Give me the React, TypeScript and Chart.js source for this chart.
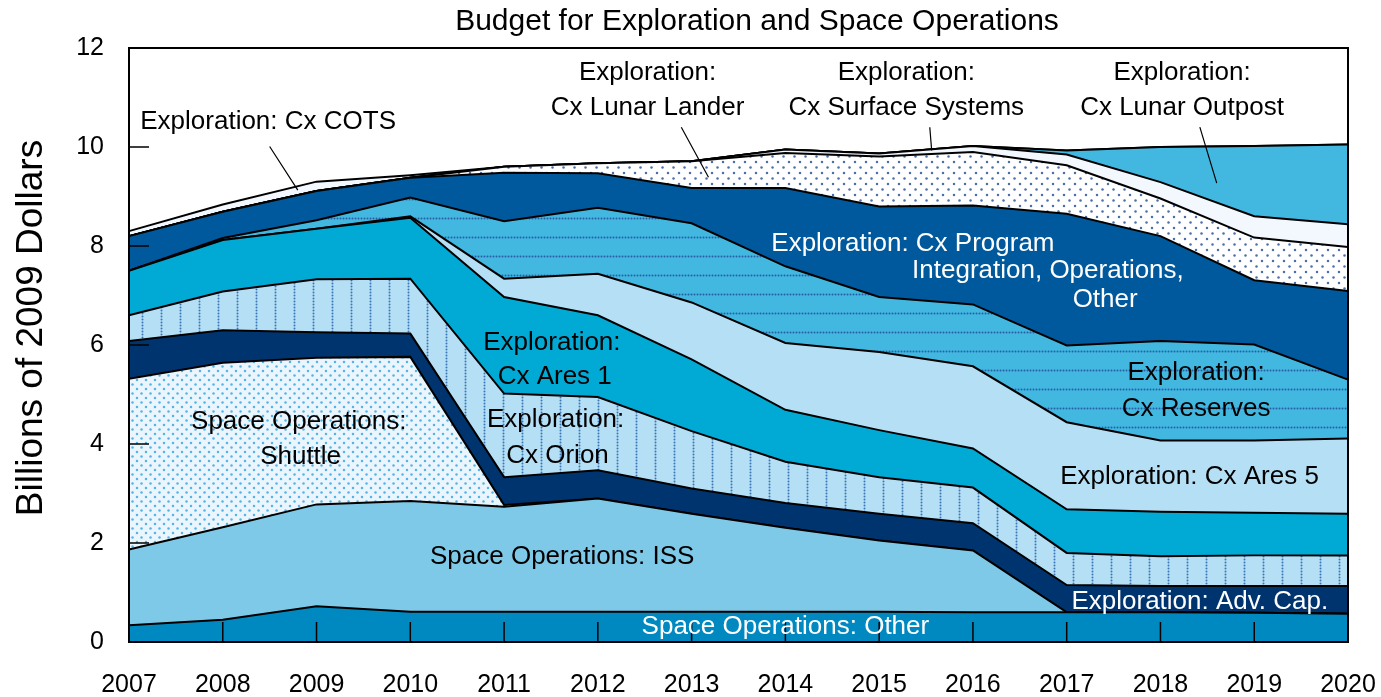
import React, { useEffect, useRef } from 'react';
import { Chart, registerables } from 'chart.js';

Chart.register(...registerables);

// ---------- data (billions of 2009 dollars, per layer) ----------
const YEARS = ['2007', '2008', '2009', '2010', '2011', '2012', '2013', '2014', '2015', '2016', '2017', '2018', '2019', '2020'];
const Y_TICKS = [0, 2, 4, 6, 8, 10, 12];

const SPACE_OPS_OTHER = [0.34, 0.45, 0.72, 0.61, 0.61, 0.61, 0.61, 0.61, 0.61, 0.60, 0.60, 0.60, 0.59, 0.57];
const SPACE_OPS_ISS = [1.53, 1.87, 2.06, 2.24, 2.12, 2.29, 1.98, 1.70, 1.44, 1.25, 0, 0, 0, 0];
const SPACE_OPS_SHUTTLE = [3.45, 3.32, 2.96, 2.91, 0.04, 0, 0, 0, 0, 0, 0, 0, 0, 0];
const EXP_ADV_CAP = [0.76, 0.66, 0.52, 0.47, 0.56, 0.57, 0.51, 0.50, 0.54, 0.55, 0.55, 0.53, 0.54, 0.56];
const EXP_CX_ORION = [0.52, 0.78, 1.07, 1.11, 1.69, 1.48, 1.16, 0.83, 0.74, 0.72, 0.65, 0.60, 0.62, 0.62];
const EXP_CX_ARES1 = [0.90, 1.04, 1.02, 1.23, 1.95, 1.65, 1.45, 1.05, 0.95, 0.79, 0.88, 0.90, 0.86, 0.84];
const EXP_CX_ARES5 = [0, 0, 0, 0.03, 0.37, 0.84, 1.15, 1.35, 1.58, 1.66, 1.76, 1.44, 1.46, 1.52];
const EXP_CX_RESERVES = [0, 0.04, 0.17, 0.38, 1.16, 1.33, 1.60, 1.55, 1.11, 1.25, 1.55, 2.01, 1.94, 1.19];
const EXP_CX_PROGRAM = [0.70, 0.53, 0.59, 0.40, 0.98, 0.70, 0.71, 1.58, 1.83, 2.00, 2.66, 2.12, 1.30, 1.79];
const EXP_CX_LUNAR_LANDER = [0, 0, 0, 0, 0.12, 0.20, 0.54, 0.71, 1.01, 1.08, 0.98, 0.76, 0.86, 0.89];
const EXP_CX_SURFACE = [0, 0, 0, 0, 0, 0, 0, 0.07, 0.06, 0.12, 0.22, 0.33, 0.43, 0.46];
const EXP_CX_OUTPOST = [0, 0, 0, 0, 0, 0, 0, 0, 0, 0, 0.08, 0.71, 1.42, 1.61];
const EXP_CX_COTS = [0.10, 0.15, 0.19, 0.05, 0, 0, 0, 0, 0, 0, 0, 0, 0, 0];

const TITLE = 'Budget for Exploration and Space Operations';
const Y_TITLE = 'Billions of 2009 Dollars';

// ---------- annotations (positions in data units: year, value) ----------
type Ann = { lines: string[]; x: number[]; y: number[]; color: string; align: CanvasTextAlign };
const ANNOTATIONS: Ann[] = [
  { lines: ['Exploration: Cx COTS'], x: [2007.12], y: [10.5], color: '#000', align: 'left' },
  { lines: ['Exploration:', 'Cx Lunar Lander'], x: [2012.53, 2012.53], y: [11.49, 10.8], color: '#000', align: 'center' },
  { lines: ['Exploration:', 'Cx Surface Systems'], x: [2015.29, 2015.29], y: [11.49, 10.8], color: '#000', align: 'center' },
  { lines: ['Exploration:', 'Cx Lunar Outpost'], x: [2018.23, 2018.23], y: [11.49, 10.8], color: '#000', align: 'center' },
  { lines: ['Exploration: Cx Program', 'Integration, Operations,', 'Other'], x: [2015.36, 2016.8, 2017.41], y: [8.05, 7.49, 6.92], color: '#fff', align: 'center' },
  { lines: ['Exploration:', 'Cx Ares 1'], x: [2011.51, 2011.54], y: [6.05, 5.35], color: '#000', align: 'center' },
  { lines: ['Exploration:', 'Cx Orion'], x: [2011.55, 2011.57], y: [4.48, 3.77], color: '#000', align: 'center' },
  { lines: ['Space Operations: ISS'], x: [2011.62], y: [1.73], color: '#000', align: 'center' },
  { lines: ['Space Operations:', 'Shuttle'], x: [2008.81, 2008.83], y: [4.44, 3.75], color: '#000', align: 'center' },
  { lines: ['Space Operations: Other'], x: [2014.0], y: [0.3], color: '#fff', align: 'center' },
  { lines: ['Exploration: Adv. Cap.'], x: [2018.42], y: [0.81], color: '#fff', align: 'center' },
  { lines: ['Exploration:', 'Cx Reserves'], x: [2018.38, 2018.38], y: [5.43, 4.72], color: '#000', align: 'center' },
  { lines: ['Exploration: Cx Ares 5'], x: [2018.31], y: [3.33], color: '#000', align: 'center' },
];
const LEADERS: [number, number, number, number][] = [
  [2008.5, 10.01, 2008.8, 9.13],
  [2012.89, 10.4, 2013.18, 9.39],
  [2015.54, 10.4, 2015.56, 9.93],
  [2018.42, 10.4, 2018.6, 9.27],
];

const FONT = '"Liberation Sans", Arial, Helvetica, sans-serif';

function makePattern(
  ctx: CanvasRenderingContext2D,
  bg: string,
  fg: string,
  w: number,
  h: number,
  dots: [number, number][],
  r: number
): CanvasPattern | string {
  const c = document.createElement('canvas');
  c.width = w;
  c.height = h;
  const g = c.getContext('2d');
  if (!g) return bg;
  g.fillStyle = bg;
  g.fillRect(0, 0, w, h);
  g.fillStyle = fg;
  for (const [x, y] of dots) {
    g.beginPath();
    g.arc(x, y, r, 0, Math.PI * 2);
    g.fill();
  }
  return ctx.createPattern(c, 'repeat') || bg;
}

export default function App() {
  const ref = useRef<HTMLCanvasElement>(null);

  useEffect(() => {
    const canvas = ref.current;
    if (!canvas) return;
    const ctx = canvas.getContext('2d');
    if (!ctx) return;

    const shuttleFill = makePattern(ctx, '#EAF5FD', '#55B4E4', 9, 9, [[2, 2], [6.5, 6.5]], 1.25);
    const orionFill = makePattern(ctx, '#B5DFF4', '#3A76BA', 19, 3, [[9.5, 1.5]], 1.0);
    const reservesFill = makePattern(ctx, '#42B8E0', '#2A5FA6', 3, 19, [[1.5, 9.5]], 1.0);
    const landerFill = makePattern(ctx, '#FFFFFF', '#4C6FAA', 11, 11, [[2.5, 2.5], [8, 8]], 1.25);

    const layers: { label: string; data: number[]; fill: CanvasPattern | string }[] = [
      { label: 'Space Operations: Other', data: SPACE_OPS_OTHER, fill: '#0088C0' },
      { label: 'Space Operations: ISS', data: SPACE_OPS_ISS, fill: '#7EC9E8' },
      { label: 'Space Operations: Shuttle', data: SPACE_OPS_SHUTTLE, fill: shuttleFill },
      { label: 'Exploration: Adv. Cap.', data: EXP_ADV_CAP, fill: '#00346F' },
      { label: 'Exploration: Cx Orion', data: EXP_CX_ORION, fill: orionFill },
      { label: 'Exploration: Cx Ares 1', data: EXP_CX_ARES1, fill: '#00AAD5' },
      { label: 'Exploration: Cx Ares 5', data: EXP_CX_ARES5, fill: '#B5DFF4' },
      { label: 'Exploration: Cx Reserves', data: EXP_CX_RESERVES, fill: reservesFill },
      { label: 'Exploration: Cx Program Integration, Operations, Other', data: EXP_CX_PROGRAM, fill: '#00599C' },
      { label: 'Exploration: Cx Lunar Lander', data: EXP_CX_LUNAR_LANDER, fill: landerFill },
      { label: 'Exploration: Cx Surface Systems', data: EXP_CX_SURFACE, fill: '#F3F8FE' },
      { label: 'Exploration: Cx Lunar Outpost', data: EXP_CX_OUTPOST, fill: '#42B8E0' },
      { label: 'Exploration: Cx COTS', data: EXP_CX_COTS, fill: '#F3F8FE' },
    ];

    const decor = {
      id: 'decor',
      afterDatasetsDraw(chart: any) {
        const c: CanvasRenderingContext2D = chart.ctx;
        const area = chart.chartArea;
        const xs = chart.scales.x;
        const ys = chart.scales.y;
        const px = (yr: number) => xs.getPixelForValue(yr - 2007);
        const py = (v: number) => ys.getPixelForValue(v);

        c.save();
        // frame
        c.strokeStyle = '#000';
        c.lineWidth = 2;
        c.strokeRect(area.left, area.top, area.right - area.left, area.bottom - area.top);

        // tick marks (inward)
        c.lineWidth = 1.5;
        c.beginPath();
        for (const t of Y_TICKS) {
          const y = py(t);
          c.moveTo(area.left, y);
          c.lineTo(area.left + 20, y);
        }
        for (let i = 1; i < YEARS.length - 1; i++) {
          const x = xs.getPixelForValue(i);
          c.moveTo(x, area.bottom);
          c.lineTo(x, area.bottom - 20);
        }
        c.stroke();

        // leader lines
        c.lineWidth = 1.2;
        c.beginPath();
        for (const [x1, y1, x2, y2] of LEADERS) {
          c.moveTo(px(x1), py(y1));
          c.lineTo(px(x2), py(y2));
        }
        c.stroke();

        c.textBaseline = 'middle';
        c.font = `25px ${FONT}`;
        c.fillStyle = '#000';

        // y tick labels
        c.textAlign = 'right';
        for (const t of Y_TICKS) {
          c.fillText(String(t), area.left - 25, py(t));
        }
        // x tick labels
        c.textAlign = 'center';
        YEARS.forEach((lab, i) => {
          c.fillText(lab, xs.getPixelForValue(i), area.bottom + 43);
        });

        // annotations
        c.font = `26px ${FONT}`;
        for (const a of ANNOTATIONS) {
          c.fillStyle = a.color;
          c.textAlign = a.align;
          a.lines.forEach((ln, i) => {
            c.fillText(ln, px(a.x[i]), py(a.y[i]));
          });
        }

        // title
        c.fillStyle = '#000';
        c.font = `30px ${FONT}`;
        c.textAlign = 'center';
        c.fillText(TITLE, 757, 22);

        // y title
        c.font = `37px ${FONT}`;
        c.translate(32, 328);
        c.rotate(-Math.PI / 2);
        c.fillText(Y_TITLE, 0, 0);
        c.restore();
      },
    };

    const chart = new Chart(ctx, {
      type: 'line',
      data: {
        labels: YEARS,
        datasets: layers.map((l, i) => ({
          label: l.label,
          data: l.data,
          backgroundColor: l.fill as any,
          borderColor: '#000',
          borderWidth: 2,
          pointRadius: 0,
          pointHoverRadius: 0,
          tension: 0,
          fill: i === 0 ? 'origin' : '-1',
        })),
      },
      options: {
        responsive: false,
        animation: false,
        events: [],
        layout: { padding: { top: 48, right: 33, left: 0, bottom: 0 } },
        plugins: {
          legend: { display: false },
          tooltip: { enabled: false },
          title: { display: false },
        },
        scales: {
          x: {
            type: 'category',
            offset: false,
            grid: { display: false },
            border: { display: false },
            ticks: { display: false },
            afterFit: (s: any) => {
              s.height = 55;
            },
          },
          y: {
            stacked: true,
            min: 0,
            max: 12,
            grid: { display: false },
            border: { display: false },
            ticks: { display: false, stepSize: 2 },
            afterFit: (s: any) => {
              s.width = 129;
            },
          },
        },
      },
      plugins: [decor],
    });

    return () => chart.destroy();
  }, []);

  return (
    <div style={{ position: 'absolute', left: 0, top: 0, width: 1381, height: 697, background: '#fff' }}>
      <canvas ref={ref} width={1381} height={697} style={{ display: 'block', width: 1381, height: 697 }} />
    </div>
  );
}
